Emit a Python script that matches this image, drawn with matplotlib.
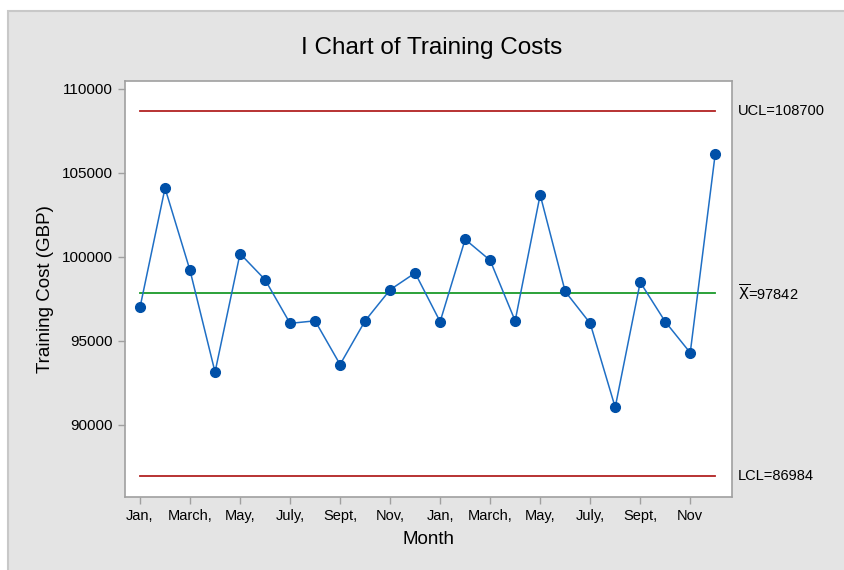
import matplotlib
matplotlib.use("Agg")
import matplotlib.pyplot as plt
from matplotlib.patches import Rectangle

# Monthly training costs over two years (GBP)
costs = [97000, 104100, 99200, 93150, 100200, 98650, 96050, 96200,
         93600, 96200, 98050, 99050, 96150, 101050, 99800, 96200,
         103700, 97950, 96050, 91050, 98500, 96150, 94300, 106150]
month_labels = ["Jan,", "March,", "May,", "July,", "Sept,", "Nov,",
                "Jan,", "March,", "May,", "July,", "Sept,", "Nov"]
center = 97842
ucl = 108700
lcl = 86984
y_ticks = [90000, 95000, 100000, 105000, 110000]

plt.rcParams['font.family'] = ['Liberation Sans', 'DejaVu Sans']

fig = plt.figure(figsize=(8.45, 5.70), dpi=100)
fig.patch.set_facecolor("white")
# gray chart panel, running off the right and bottom edges
fig.patches.append(Rectangle((8 / 845, -0.05), 1.05, 1.05 - 11 / 570, transform=fig.transFigure,
                             facecolor="#e4e4e4", edgecolor="#c8c8c8", linewidth=1.5,
                             zorder=-1))

ax = fig.add_axes([125 / 845, 1 - 497 / 570, (732 - 125) / 845, (497 - 81) / 570])
ax.set_facecolor("white")

n = len(costs)
x = list(range(1, n + 1))

ax.plot([1, n], [ucl, ucl], color="#b22222", lw=1.3)
ax.plot([1, n], [lcl, lcl], color="#b22222", lw=1.3)
ax.plot([1, n], [center, center], color="#1a9a2a", lw=1.3)
ax.plot(x, costs, color="#1f6fc5", lw=1.1, marker="o", markersize=7,
        markerfacecolor="#0050a8", markeredgecolor="#0050a8", zorder=3)

ax.set_xlim(0.4, 24.67)
ax.set_ylim(85714, 110476)
ax.set_yticks(y_ticks)
ax.set_yticklabels([str(v) for v in y_ticks], fontsize=11)
ax.set_xticks(x[::2])
ax.set_xticklabels(month_labels, fontsize=10.5)

for s in ax.spines.values():
    s.set_color("#a0a0a0")
    s.set_linewidth(1.2)
ax.tick_params(colors="#a0a0a0", labelcolor="black", length=5, width=1)

ax.set_ylabel("Training Cost (GBP)", fontsize=13.5, labelpad=6)
ax.set_xlabel("Month", fontsize=13.5, labelpad=6)
fig.text(432 / 845, 1 - 48 / 570, "I Chart of Training Costs", fontsize=17.5,
         ha="center", va="center")

# control limit labels
ax.text(1.01, ucl, "UCL=%d" % ucl, transform=ax.get_yaxis_transform(),
        va="center", ha="left", fontsize=10.5)
ax.text(1.01, center, r"$\overline{\mathrm{X}}$=%d" % center, transform=ax.get_yaxis_transform(),
        va="center", ha="left", fontsize=10.5)
ax.text(1.01, lcl, "LCL=%d" % lcl, transform=ax.get_yaxis_transform(),
        va="center", ha="left", fontsize=10.5)

fig.savefig("out.png", dpi=100, facecolor=fig.get_facecolor())
